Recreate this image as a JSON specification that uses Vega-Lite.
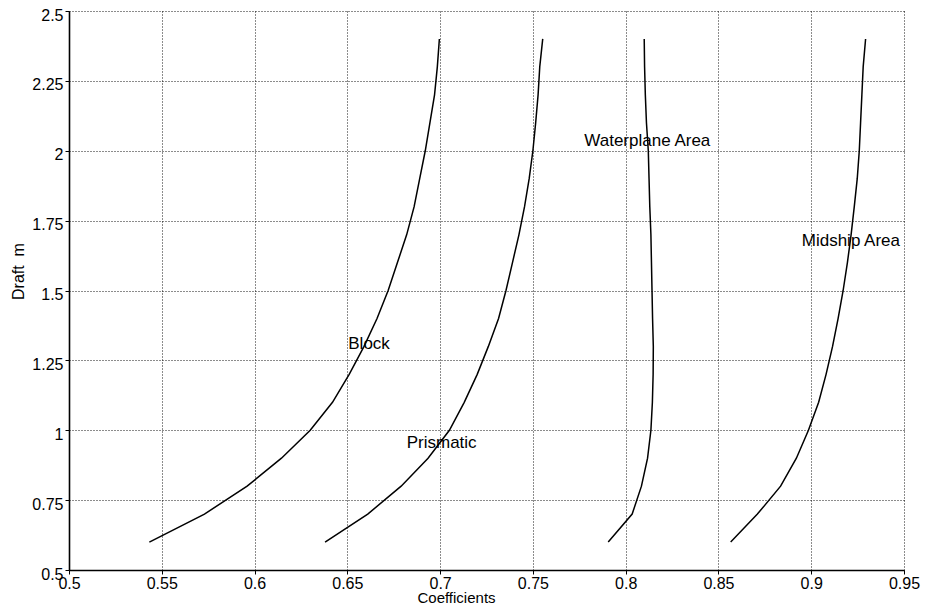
{
  "$schema": "https://vega.github.io/schema/vega-lite/v6.json",
  "width": 835,
  "height": 559,
  "autosize": "none",
  "padding": {"left": 69, "top": 11, "right": 22, "bottom": 36},
  "background": "white",
  "config": {
    "font": "Liberation Sans",
    "view": {"stroke": null},
    "axis": {
      "domainColor": "black",
      "domainWidth": 1.6,
      "tickColor": "black",
      "tickSize": 4,
      "tickWidth": 1,
      "labelColor": "black",
      "labelFont": "Liberation Sans",
      "labelFontSize": 16,
      "labelFlush": false,
      "labelOverlap": false,
      "titleColor": "black",
      "titleFont": "Liberation Sans",
      "titleFontSize": 16,
      "titleFontWeight": "normal",
      "grid": true,
      "gridColor": "black",
      "gridDash": [1, 2],
      "gridWidth": 1,
      "gridOpacity": 0.9
    }
  },
  "datasets": {
    "curves": [
      {"coef": "Block", "draft": 0.6, "value": 0.5433},
      {"coef": "Block", "draft": 0.7, "value": 0.573},
      {"coef": "Block", "draft": 0.8, "value": 0.596},
      {"coef": "Block", "draft": 0.9, "value": 0.6145},
      {"coef": "Block", "draft": 1.0, "value": 0.63},
      {"coef": "Block", "draft": 1.1, "value": 0.642},
      {"coef": "Block", "draft": 1.2, "value": 0.651},
      {"coef": "Block", "draft": 1.3, "value": 0.659},
      {"coef": "Block", "draft": 1.4, "value": 0.666},
      {"coef": "Block", "draft": 1.5, "value": 0.672},
      {"coef": "Block", "draft": 1.6, "value": 0.677},
      {"coef": "Block", "draft": 1.7, "value": 0.682},
      {"coef": "Block", "draft": 1.8, "value": 0.686},
      {"coef": "Block", "draft": 1.9, "value": 0.689},
      {"coef": "Block", "draft": 2.0, "value": 0.692},
      {"coef": "Block", "draft": 2.1, "value": 0.6945},
      {"coef": "Block", "draft": 2.2, "value": 0.697},
      {"coef": "Block", "draft": 2.3, "value": 0.6985},
      {"coef": "Block", "draft": 2.4, "value": 0.6996},
      {"coef": "Prismatic", "draft": 0.6, "value": 0.638},
      {"coef": "Prismatic", "draft": 0.7, "value": 0.661},
      {"coef": "Prismatic", "draft": 0.8, "value": 0.679},
      {"coef": "Prismatic", "draft": 0.9, "value": 0.6935},
      {"coef": "Prismatic", "draft": 1.0, "value": 0.705},
      {"coef": "Prismatic", "draft": 1.1, "value": 0.713},
      {"coef": "Prismatic", "draft": 1.2, "value": 0.72},
      {"coef": "Prismatic", "draft": 1.3, "value": 0.726},
      {"coef": "Prismatic", "draft": 1.4, "value": 0.7315},
      {"coef": "Prismatic", "draft": 1.5, "value": 0.7355},
      {"coef": "Prismatic", "draft": 1.6, "value": 0.739},
      {"coef": "Prismatic", "draft": 1.7, "value": 0.7425},
      {"coef": "Prismatic", "draft": 1.8, "value": 0.7455},
      {"coef": "Prismatic", "draft": 1.9, "value": 0.748},
      {"coef": "Prismatic", "draft": 2.0, "value": 0.75},
      {"coef": "Prismatic", "draft": 2.1, "value": 0.7515},
      {"coef": "Prismatic", "draft": 2.2, "value": 0.7528},
      {"coef": "Prismatic", "draft": 2.3, "value": 0.7537},
      {"coef": "Prismatic", "draft": 2.4, "value": 0.7553},
      {"coef": "Waterplane Area", "draft": 0.6, "value": 0.7906},
      {"coef": "Waterplane Area", "draft": 0.7, "value": 0.8035},
      {"coef": "Waterplane Area", "draft": 0.8, "value": 0.8085},
      {"coef": "Waterplane Area", "draft": 0.9, "value": 0.8118},
      {"coef": "Waterplane Area", "draft": 1.0, "value": 0.8136},
      {"coef": "Waterplane Area", "draft": 1.1, "value": 0.8144},
      {"coef": "Waterplane Area", "draft": 1.2, "value": 0.8148},
      {"coef": "Waterplane Area", "draft": 1.3, "value": 0.8149},
      {"coef": "Waterplane Area", "draft": 1.4, "value": 0.8145},
      {"coef": "Waterplane Area", "draft": 1.5, "value": 0.8142},
      {"coef": "Waterplane Area", "draft": 1.6, "value": 0.8139},
      {"coef": "Waterplane Area", "draft": 1.7, "value": 0.8136},
      {"coef": "Waterplane Area", "draft": 1.8, "value": 0.813},
      {"coef": "Waterplane Area", "draft": 1.9, "value": 0.8126},
      {"coef": "Waterplane Area", "draft": 2.0, "value": 0.8122},
      {"coef": "Waterplane Area", "draft": 2.1, "value": 0.8112},
      {"coef": "Waterplane Area", "draft": 2.2, "value": 0.8106},
      {"coef": "Waterplane Area", "draft": 2.3, "value": 0.8102},
      {"coef": "Waterplane Area", "draft": 2.4, "value": 0.81},
      {"coef": "Midship Area", "draft": 0.6, "value": 0.8566},
      {"coef": "Midship Area", "draft": 0.7, "value": 0.871},
      {"coef": "Midship Area", "draft": 0.8, "value": 0.8835},
      {"coef": "Midship Area", "draft": 0.9, "value": 0.892},
      {"coef": "Midship Area", "draft": 1.0, "value": 0.8985},
      {"coef": "Midship Area", "draft": 1.1, "value": 0.904},
      {"coef": "Midship Area", "draft": 1.2, "value": 0.908},
      {"coef": "Midship Area", "draft": 1.3, "value": 0.9115},
      {"coef": "Midship Area", "draft": 1.4, "value": 0.9145},
      {"coef": "Midship Area", "draft": 1.5, "value": 0.9172},
      {"coef": "Midship Area", "draft": 1.6, "value": 0.9195},
      {"coef": "Midship Area", "draft": 1.7, "value": 0.9215},
      {"coef": "Midship Area", "draft": 1.8, "value": 0.9232},
      {"coef": "Midship Area", "draft": 1.9, "value": 0.9248},
      {"coef": "Midship Area", "draft": 2.0, "value": 0.9259},
      {"coef": "Midship Area", "draft": 2.1, "value": 0.9266},
      {"coef": "Midship Area", "draft": 2.2, "value": 0.9273},
      {"coef": "Midship Area", "draft": 2.3, "value": 0.928},
      {"coef": "Midship Area", "draft": 2.4, "value": 0.9293}
    ],
    "labels": [
      {"label": "Block", "draft": 1.291, "value": 0.6505},
      {"label": "Prismatic", "draft": 0.935, "value": 0.682},
      {"label": "Waterplane Area", "draft": 2.018, "value": 0.7777},
      {"label": "Midship Area", "draft": 1.66, "value": 0.8949}
    ]
  },
  "layer": [
    {
      "data": {"name": "curves"},
      "mark": {"type": "line", "color": "black", "strokeWidth": 1.5, "clip": true},
      "encoding": {
        "x": {
          "field": "value",
          "type": "quantitative",
          "scale": {"domain": [0.5, 0.95], "nice": false, "zero": false},
          "axis": {
            "values": [0.5, 0.55, 0.6, 0.65, 0.7, 0.75, 0.8, 0.85, 0.9, 0.95],
            "format": ".3~g",
            "title": "Coefficients",
            "labelPadding": 1,
            "titleX": 387,
            "titleY": 27,
            "titleAlign": "center",
            "titleBaseline": "middle",
            "titleFontSize": 15
          }
        },
        "y": {
          "field": "draft",
          "type": "quantitative",
          "scale": {"domain": [0.5, 2.5], "nice": false, "zero": false},
          "axis": {
            "values": [0.5, 0.75, 1, 1.25, 1.5, 1.75, 2, 2.25, 2.5],
            "format": ".3~g",
            "title": "Draft\u00a0\u00a0m",
            "labelPadding": 2,
            "labelOffset": 4,
            "titleX": -51,
            "titleY": 260,
            "titleAlign": "center",
            "titleBaseline": "middle",
            "titleAngle": -90
          }
        },
        "detail": {"field": "coef"},
        "order": {"field": "draft", "type": "quantitative"}
      }
    },
    {
      "data": {"name": "labels"},
      "mark": {
        "type": "text",
        "align": "left",
        "baseline": "alphabetic",
        "font": "Liberation Sans",
        "fontSize": 17,
        "color": "black"
      },
      "encoding": {
        "x": {"field": "value", "type": "quantitative"},
        "y": {"field": "draft", "type": "quantitative"},
        "text": {"field": "label"}
      }
    }
  ]
}
